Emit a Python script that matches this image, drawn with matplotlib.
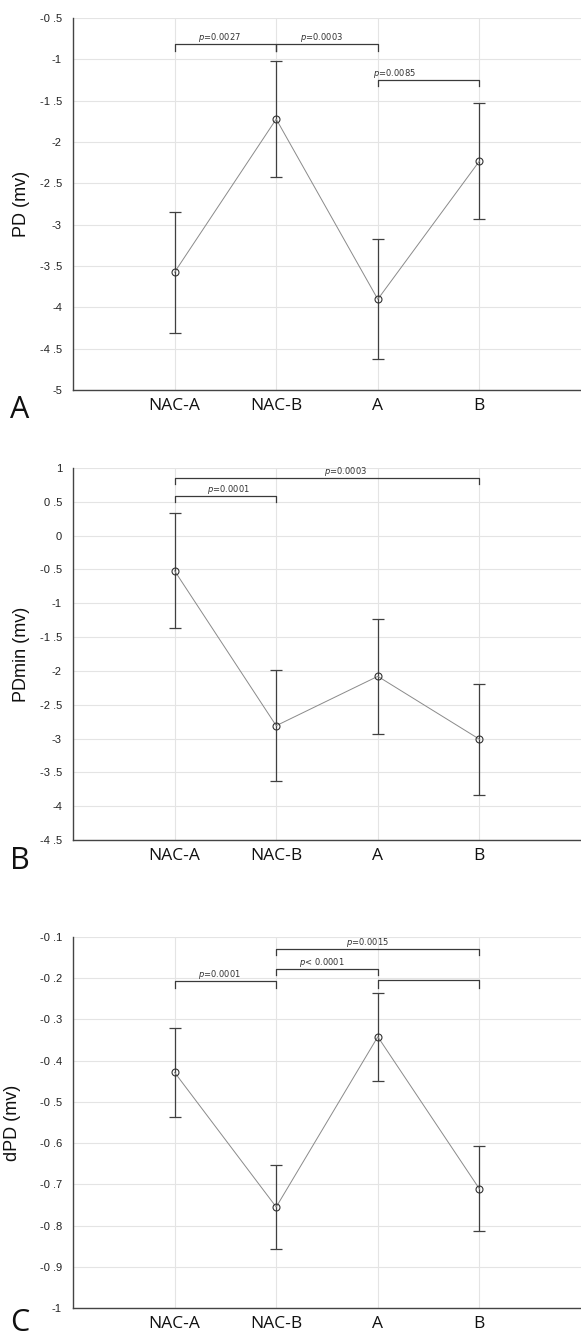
import matplotlib
matplotlib.use("Agg")
import matplotlib.pyplot as plt

plt.rcParams['mathtext.fontset'] = 'dejavusans'

groups = ['NAC-A', 'NAC-B', 'A', 'B']

# panel A: PD
pd_mean = [-3.575, -1.723, -3.902, -2.231]
pd_err = [0.73, 0.70, 0.726, 0.70]
pd_ticks = [-0.5, -1, -1.5, -2, -2.5, -3, -3.5, -4, -4.5, -5]
pd_ticklabels = ['-0 .5', '-1', '-1 .5', '-2', '-2 .5', '-3', '-3 .5', '-4', '-4 .5', '-5']
# (left group, right group, bar height, leg bottom, label, label x)
pd_brackets = [(1, 2, -0.811, -0.904, '$p$=0.0027', 1.44),
               (2, 3, -0.811, -0.904, '$p$=0.0003', 2.45),
               (3, 4, -1.247, -1.327, '$p$=0.0085', 3.16)]

# panel B: PDmin
pdmin_mean = [-0.52, -2.81, -2.08, -3.01]
pdmin_err = [0.85, 0.82, 0.85, 0.82]
pdmin_ticks = [1, 0.5, 0, -0.5, -1, -1.5, -2, -2.5, -3, -3.5, -4, -4.5]
pdmin_ticklabels = ['1', '0 .5', '0', '-0 .5', '-1', '-1 .5', '-2', '-2 .5', '-3', '-3 .5', '-4', '-4 .5']
pdmin_brackets = [(1, 4, 0.852, 0.763, '$p$=0.0003', 2.68),
                  (1, 2, 0.58, 0.497, '$p$=0.0001', 1.53)]

# panel C: dPD
dpd_mean = [-0.4285, -0.755, -0.342, -0.711]
dpd_err = [0.107, 0.102, 0.107, 0.103]
dpd_ticks = [-0.1, -0.2, -0.3, -0.4, -0.5, -0.6, -0.7, -0.8, -0.9, -1]
dpd_ticklabels = ['-0 .1', '-0 .2', '-0 .3', '-0 .4', '-0 .5', '-0 .6', '-0 .7', '-0 .8', '-0 .9', '-1']
dpd_brackets = [(2, 4, -0.128, -0.144, '$p$=0.0015', 2.9),
                (2, 3, -0.177, -0.191, '$p$< 0.0001', 2.45),
                (1, 2, -0.207, -0.2235, '$p$=0.0001', 1.44),
                (3, 4, -0.205, -0.223, '', 3.5)]

panels = [
    dict(mean=pd_mean, err=pd_err, ticks=pd_ticks, labels=pd_ticklabels,
         br=pd_brackets, ylabel='PD (mv)', letter='A', ylabx=-0.085,
         rect=[73/581, 1 - 390/1338, 508/581, 372/1338], lety=1 - 418/1338),
    dict(mean=pdmin_mean, err=pdmin_err, ticks=pdmin_ticks, labels=pdmin_ticklabels,
         br=pdmin_brackets, ylabel='PDmin (mv)', letter='B', ylabx=-0.085,
         rect=[73/581, 1 - 840/1338, 508/581, 372/1338], lety=1 - 869/1338),
    dict(mean=dpd_mean, err=dpd_err, ticks=dpd_ticks, labels=dpd_ticklabels,
         br=dpd_brackets, ylabel='dPD (mv)', letter='C', ylabx=-0.102,
         rect=[73/581, 1 - 1308/1338, 508/581, 371/1338], lety=1 - 1331/1338),
]

fig = plt.figure(figsize=(5.81, 13.38), dpi=100)
xs = list(range(1, len(groups) + 1))

for p in panels:
    ax = fig.add_axes(p['rect'])
    ax.errorbar(xs, p['mean'], yerr=p['err'], fmt='none', ecolor='#404040',
                elinewidth=0.9, capsize=4.5, capthick=0.9, zorder=3)
    ax.plot(xs, p['mean'], color='#8a8a8a', lw=0.7, zorder=4)
    ax.plot(xs, p['mean'], 'o', mfc='none', mec='#333333', ms=5, mew=0.8, zorder=5)

    for x1, x2, yb, yl, txt, tx in p['br']:
        ax.plot([x1, x1, x2, x2], [yl, yb, yb, yl], color='#3a3a3a', lw=0.9, zorder=6)
        if txt:
            ax.text(tx, yb, txt, fontsize=6, color='#333333', ha='center',
                    va='bottom', family='DejaVu Sans', zorder=7)

    ax.set_xlim(0, 5)
    ax.set_ylim(min(p['ticks']), max(p['ticks']))
    ax.set_xticks(xs)
    ax.set_xticklabels(groups, family='Open Sans', fontsize=12.5, color='#111111')
    ax.set_yticks(p['ticks'])
    ax.set_yticklabels(p['labels'], family='Liberation Sans', fontsize=8, color='#222222')
    ax.tick_params(axis='both', length=0)
    ax.tick_params(axis='y', pad=8)
    ax.tick_params(axis='x', pad=6)
    ax.grid(True, color='#e4e4e4', lw=0.8)
    ax.set_axisbelow(True)
    for s in ['top', 'right']:
        ax.spines[s].set_visible(False)
    for s in ['left', 'bottom']:
        ax.spines[s].set_color('#444444')
        ax.spines[s].set_linewidth(1.0)
    ax.set_ylabel(p['ylabel'], family='Liberation Sans', fontsize=13, color='#111111')
    ax.yaxis.set_label_coords(p['ylabx'], 0.5)
    fig.text(10/581, p['lety'], p['letter'], family='Open Sans', fontsize=22,
             ha='left', va='baseline', color='#111111')

plt.savefig('out.png', dpi=100)
